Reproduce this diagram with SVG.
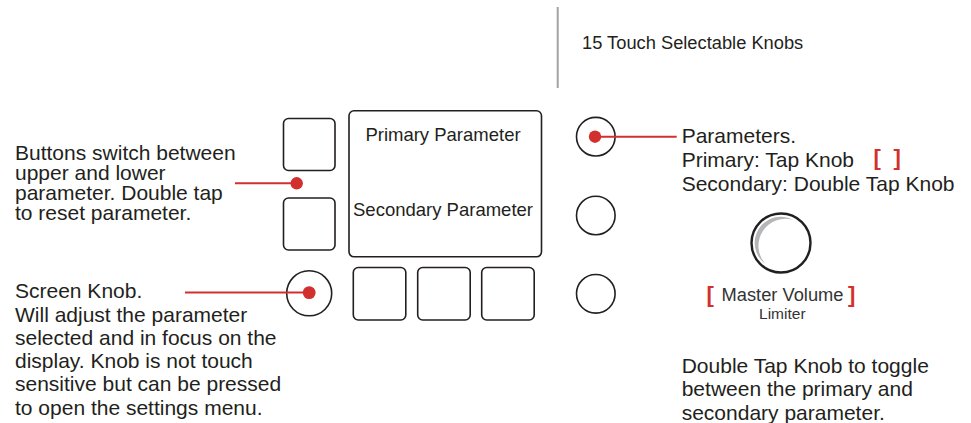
<svg xmlns="http://www.w3.org/2000/svg" width="971" height="423" viewBox="0 0 971 423">
<style>
.t{font-family:"Liberation Sans",Arial,sans-serif;fill:#231f20}
.d{font-size:21px}
.btn{fill:#fff;stroke:#231f20;stroke-width:1.6}
.knob{fill:#fff;stroke:#231f20;stroke-width:1.6}
.lead{stroke:#d2302f;stroke-width:2;fill:none}
.dot{fill:#d2302f}
.br{font-family:"Liberation Sans",Arial,sans-serif;font-weight:bold;fill:#d2302f;font-size:22px}
</style>
<rect width="971" height="423" fill="#fff"/>
<g id="divider"><line x1="557.7" y1="7" x2="557.7" y2="88" stroke="#a3a3a3" stroke-width="2"/></g>
<g id="title"><text class="t" x="582" y="49" font-size="18.3">15 Touch Selectable Knobs</text></g>
<g id="btn-upper"><rect class="btn" x="283.5" y="118.5" width="51.5" height="52" rx="5"/></g>
<g id="btn-lower"><rect class="btn" x="283.5" y="198" width="51.5" height="52" rx="5"/></g>
<g id="screen"><rect class="btn" x="349" y="110.8" width="192.5" height="146" rx="5"/>
<text class="t" x="443" y="141" font-size="18.5" text-anchor="middle">Primary Parameter</text>
<text class="t" x="443" y="216" font-size="18.5" text-anchor="middle">Secondary Parameter</text></g>
<g id="screen-knob"><circle class="knob" cx="309.2" cy="293.3" r="22.5"/></g>
<g id="btn-b1"><rect class="btn" x="353.3" y="267.5" width="52.5" height="52.5" rx="5"/></g>
<g id="btn-b2"><rect class="btn" x="417.7" y="267.5" width="52.5" height="52.5" rx="5"/></g>
<g id="btn-b3"><rect class="btn" x="481.7" y="267.5" width="52.5" height="52.5" rx="5"/></g>
<g id="knob-1"><circle class="knob" cx="595.8" cy="136.7" r="19.3"/></g>
<g id="knob-2"><circle class="knob" cx="595.8" cy="215.5" r="19.3"/></g>
<g id="knob-3"><circle class="knob" cx="595.8" cy="293.8" r="19.3"/></g>
<g id="master-knob"><circle cx="781" cy="243" r="29.5" fill="#fff" stroke="#231f20" stroke-width="2.4"/>
<path d="M793.2,220 A26,26 0 0 0 765.1,263.6 A27,27 0 0 1 793.2,220 Z" fill="#b5b6b8"/></g>
<g id="master-label">
<text class="br" x="706.5" y="302">[</text>
<text class="t" x="782.5" y="300.7" font-size="18.3" text-anchor="middle" style="fill:#333">Master Volume</text>
<text class="br" x="848" y="302">]</text>
<text class="t" x="782.3" y="319.3" font-size="15.5" text-anchor="middle" style="fill:#333">Limiter</text></g>
<g id="note-buttons"><text class="t d" x="15" y="160">Buttons switch between<tspan x="15" dy="20">upper and lower</tspan><tspan x="15" dy="20">parameter. Double tap</tspan><tspan x="15" dy="20">to reset parameter.</tspan></text></g>
<g id="note-screen-knob"><text class="t d" x="15" y="298.3">Screen Knob.<tspan x="15" dy="23.25">Will adjust the parameter</tspan><tspan x="15" dy="23.25">selected and in focus on the</tspan><tspan x="15" dy="23.25">display. Knob is not touch</tspan><tspan x="15" dy="23.25">sensitive but can be pressed</tspan><tspan x="15" dy="23.25">to open the settings menu.</tspan></text></g>
<g id="note-parameters"><text class="t d" x="681.7" y="142.5">Parameters.<tspan x="681.7" dy="24">Primary: Tap Knob</tspan><tspan x="681.7" dy="24">Secondary: Double Tap Knob</tspan></text>
<text class="br" x="873.6" y="165">[</text>
<text class="br" x="893.4" y="165">]</text></g>
<g id="note-toggle"><text class="t d" x="681.7" y="373.3">Double Tap Knob to toggle<tspan x="681.7" dy="23.1">between the primary and</tspan><tspan x="681.7" dy="23.1">secondary parameter.</tspan></text></g>
<g id="connectors">
<line class="lead" x1="235" y1="183.3" x2="296.7" y2="183.3"/><circle class="dot" cx="296.7" cy="183.3" r="6.2"/>
<line class="lead" x1="185" y1="292.6" x2="309.2" y2="292.6"/><circle class="dot" cx="309.2" cy="292.6" r="6.4"/>
<line class="lead" x1="595" y1="136.7" x2="676.7" y2="136.7"/><circle class="dot" cx="595" cy="136.7" r="6.2"/>
</g>
</svg>
